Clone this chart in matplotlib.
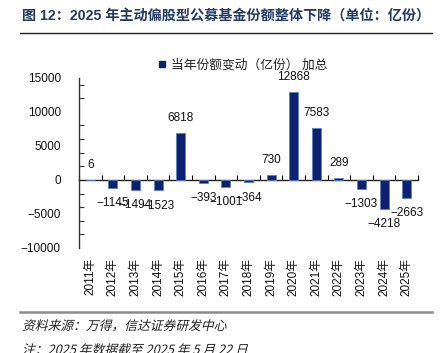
import numpy as np
import matplotlib
matplotlib.use("Agg")
import matplotlib.pyplot as plt
from matplotlib.lines import Line2D
from matplotlib.textpath import TextPath
from matplotlib.patches import PathPatch
from matplotlib.font_manager import FontProperties
from matplotlib.transforms import Affine2D
from matplotlib.ticker import MultipleLocator

plt.rcParams['font.family'] = ['Liberation Sans', 'Noto Sans CJK SC']
plt.rcParams['axes.unicode_minus'] = True

# dados
anos = ['2011年', '2012年', '2013年', '2014年', '2015年', '2016年', '2017年', '2018年',
        '2019年', '2020年', '2021年', '2022年', '2023年', '2024年', '2025年']
variacao = [6, -1145, -1494, -1523, 6818, -393, -1001, -364, 730, 12868, 7583, 289, -1303, -4218, -2663]
nome_serie = '当年份额变动（亿份） 加总'
titulo = '图 12：2025 年主动偏股型公募基金份额整体下降（单位：亿份）'
fonte = '资料来源：万得，信达证券研发中心'
nota = '注：2025 年数据截至 2025 年 5 月 22 日'

W, H = 442, 353
fig = plt.figure(figsize=(W / 100, H / 100), dpi=100)
ax = fig.add_axes([79 / W, 1 - 248 / H, (418 - 79) / W, (248 - 77.7) / H])

x = np.arange(len(anos))
ax.bar(x, variacao, width=0.4, color='#0c2270', edgecolor='#6080c0', linewidth=0.6, zorder=3)

ax.set_xlim(-0.5, len(anos) - 0.5)
ax.set_ylim(-10000, 15000)

# rotulos de valor
for xi, v in zip(x, variacao):
    off = 11 if v >= 0 else -11
    ax.annotate(f'{v}'.replace('-', '−'), (xi, v), xytext=(0, off), textcoords='offset points',
                ha='center', va='center', fontsize=8.5, color='#111111', zorder=4)

# eixo y: rotulos a cada 5000 sem traco, tracos a cada 2000
ax.yaxis.set_major_locator(MultipleLocator(5000))
ax.yaxis.set_minor_locator(MultipleLocator(2000))
ax.tick_params(axis='y', which='major', length=0, pad=13, labelsize=8.5, colors='#111111')
ax.tick_params(axis='y', which='minor', length=3.5, direction='in', width=0.8, color='#333333')
ax.yaxis.set_minor_formatter(plt.NullFormatter())

# eixo x: rotulos embaixo, linha no zero
ax.set_xticks(x)
ax.set_xticklabels(anos, rotation=90)
ax.tick_params(axis='x', length=0, pad=7, labelsize=8.5, colors='#111111')

frac0 = (0 - (-10000)) / 25000
sec = ax.secondary_xaxis(frac0)
sec.set_xticks(np.arange(-0.5, len(anos), 1.0))
sec.tick_params(axis='x', direction='in', length=3.5, width=0.8, labelbottom=False, labeltop=False)
sec.spines['bottom'].set_color('#222222')
sec.spines['bottom'].set_linewidth(1.0)

for s in ['top', 'right', 'bottom']:
    ax.spines[s].set_visible(False)
ax.spines['left'].set_color('#333333')
ax.spines['left'].set_linewidth(1.0)

# legenda
h = Line2D([], [], marker='s', linestyle='none', markersize=4, color='#0c2270')
ax.legend([h], [nome_serie], loc='center left', bbox_to_anchor=(158 / W, 1 - 65 / H),
          bbox_transform=fig.transFigure, frameon=False, fontsize=9.2, handlelength=0.6,
          handletextpad=0.4, borderpad=0, borderaxespad=0, labelcolor='#222222')

# titulo
fig.text(22 / W, 1 - 16 / H, titulo, fontsize=10.2, fontweight='bold', color='#243a66',
         ha='left', va='center')
fig.add_artist(Line2D([20 / W, 432 / W], [1 - 33 / H, 1 - 33 / H], transform=fig.transFigure,
                      color='#222222', linewidth=1.0))
fig.add_artist(Line2D([20 / W, 432 / W], [1 - 312 / H, 1 - 312 / H], transform=fig.transFigure,
                      color='#8a8a8a', linewidth=1.8))

# texto em italico (cjk sem italico: inclina o contorno)
fp = FontProperties(family='Noto Sans CJK SC')
def texto_inclinado(s, x_px, y_px, size):
    tp = TextPath((0, 0), s, size=size, prop=fp)
    tr = Affine2D().skew_deg(14, 0).scale(1 / 72).translate(x_px / 100, (H - y_px) / 100) + fig.dpi_scale_trans
    fig.add_artist(PathPatch(tp, transform=tr, facecolor='#222222', edgecolor='none'))

texto_inclinado(fonte, 22, 330, 9.2)
texto_inclinado(nota, 22, 354, 9.2)

fig.savefig('out.png', dpi=100)
